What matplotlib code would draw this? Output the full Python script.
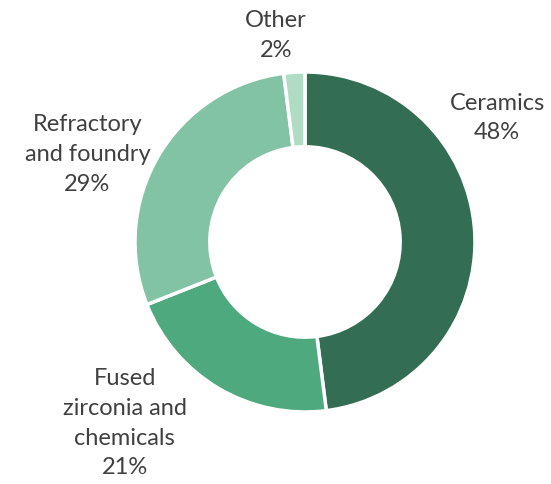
import matplotlib.pyplot as plt

# Zircon end-use shares
segments = ['Ceramics', 'Fused\nzirconia and\nchemicals', 'Refractory\nand foundry', 'Other']
shares = [48, 21, 29, 2]
colors = ['#336E54', '#4EA97F', '#82C3A5', '#B0DCC6']
label_pos = [(1.13, 0.735), (-1.06, -1.06), (-1.28, 0.52), (-0.17, 1.22)]

plt.rcParams['font.family'] = ['Lato', 'DejaVu Sans']

fig = plt.figure(figsize=(5.51, 4.85), dpi=100, facecolor='white')
ax = fig.add_axes([0.245, 0.1485, 0.617, 0.701])

ax.pie(shares, colors=colors, startangle=90, counterclock=False, radius=1,
       wedgeprops=dict(width=0.44, edgecolor='white', linewidth=2.5))

for name, val, (x, y) in zip(segments, shares, label_pos):
    ax.text(x, y, f'{name}\n{val}%', ha='center', va='center', fontsize=17,
            color='#404040', linespacing=1.52)

ax.set_xlim(-1, 1)
ax.set_ylim(-1, 1)
ax.set_aspect('equal')
ax.axis('off')

plt.savefig('out.png', dpi=100)
